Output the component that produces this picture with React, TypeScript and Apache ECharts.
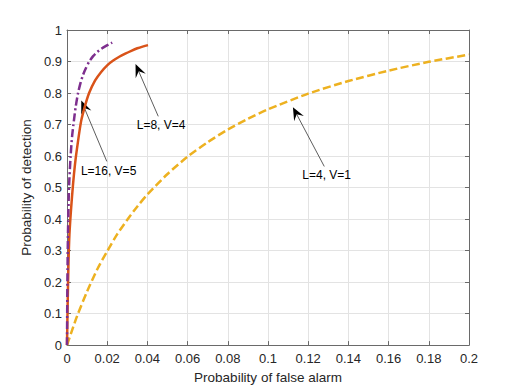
import React, { useEffect, useRef } from "react";
import * as echarts from "echarts";

// L=4, V=1 (yellow, dashed)
const pfaL4 = [0, 0.002, 0.005, 0.01, 0.015, 0.02, 0.025, 0.03, 0.035, 0.04, 0.05, 0.06, 0.07, 0.08, 0.09, 0.1, 0.12, 0.14, 0.16, 0.18, 0.2];
const pdL4 = [0, 0.037, 0.092, 0.17, 0.24, 0.298, 0.352, 0.398, 0.44, 0.478, 0.543, 0.598, 0.644, 0.684, 0.718, 0.748, 0.798, 0.838, 0.871, 0.899, 0.922];

// L=8, V=4 (red, solid)
const pfaL8 = [0, 0.0003, 0.0007, 0.0012, 0.002, 0.003, 0.004, 0.005, 0.007, 0.009, 0.011, 0.014, 0.017, 0.02, 0.023, 0.026, 0.029, 0.032, 0.035, 0.038, 0.0403];
const pdL8 = [0, 0.12, 0.25, 0.35, 0.43, 0.51, 0.575, 0.625, 0.71, 0.76, 0.8, 0.84, 0.867, 0.888, 0.903, 0.915, 0.925, 0.934, 0.942, 0.948, 0.952];

// L=16, V=5 (purple, dash-dot)
const pfaL16 = [0, 0.0002, 0.0005, 0.001, 0.0018, 0.0025, 0.0032, 0.0043, 0.0055, 0.0068, 0.008, 0.0095, 0.011, 0.013, 0.015, 0.017, 0.019, 0.021, 0.0225];
const pdL16 = [0, 0.2, 0.36, 0.5, 0.6, 0.66, 0.7, 0.755, 0.8, 0.834, 0.858, 0.88, 0.899, 0.917, 0.93, 0.94, 0.948, 0.955, 0.96];

const xTicks = [0, 0.02, 0.04, 0.06, 0.08, 0.1, 0.12, 0.14, 0.16, 0.18, 0.2];
const yTicks = [0, 0.1, 0.2, 0.3, 0.4, 0.5, 0.6, 0.7, 0.8, 0.9, 1];

// annotations: label, text centre, arrow tail, arrow tip (data coordinates)
const annLabels = ["L=16, V=5", "L=8, V=4", "L=4, V=1"];
const annText = [[0.0207, 0.552], [0.0468, 0.7], [0.1292, 0.541]];
const annTail = [[0.0198, 0.583], [0.0454, 0.726], [0.128, 0.567]];
const annTip = [[0.0071, 0.776], [0.0341, 0.892], [0.1124, 0.755]];

const FONT = "'Liberation Sans', Arial, Helvetica, sans-serif";
const AXIS_COLOR = "#262626";

const zip = (xs: number[], ys: number[]) => xs.map((x, i) => [x, ys[i]]);

export default function App() {
  const ref = useRef<HTMLDivElement>(null);
  useEffect(() => {
    if (!ref.current) return;
    const chart = echarts.init(ref.current, null, { renderer: "svg" });
    const xMin = xTicks[0], xMax = xTicks[xTicks.length - 1];
    const yMin = yTicks[0], yMax = yTicks[yTicks.length - 1];
    const xInt = xTicks[1] - xTicks[0];
    const yInt = yTicks[1] - yTicks[0];
    const baseAxis = {
      axisLine: { show: true, onZero: false, lineStyle: { color: "#6a6a6a", width: 1 } },
      axisTick: { show: true, inside: true, length: 4, lineStyle: { color: "#6a6a6a" } },
    };
    chart.setOption({
      animation: false,
      backgroundColor: "#ffffff",
      grid: { left: 67, right: 50, top: 30, bottom: 43, containLabel: false },
      xAxis: [
        {
          ...baseAxis,
          type: "value",
          min: xMin,
          max: xMax,
          interval: xInt,
          name: "Probability of false alarm",
          nameLocation: "middle",
          nameGap: 24,
          nameTextStyle: { color: AXIS_COLOR, fontFamily: FONT, fontSize: 13.5 },
          axisLabel: { color: AXIS_COLOR, fontFamily: FONT, fontSize: 13, margin: 7 },
          splitLine: { show: true, lineStyle: { color: "#e3e3e3", width: 1 } },
        },
        {
          ...baseAxis,
          type: "value",
          position: "top",
          min: xMin,
          max: xMax,
          interval: xInt,
          axisLabel: { show: false },
          splitLine: { show: false },
        },
      ],
      yAxis: [
        {
          ...baseAxis,
          type: "value",
          min: yMin,
          max: yMax,
          interval: yInt,
          name: "Probability of detection",
          nameLocation: "middle",
          nameGap: 26,
          nameTextStyle: { color: AXIS_COLOR, fontFamily: FONT, fontSize: 13.5 },
          axisLabel: { color: AXIS_COLOR, fontFamily: FONT, fontSize: 13, margin: 5 },
          splitLine: { show: true, lineStyle: { color: "#e3e3e3", width: 1 } },
        },
        {
          ...baseAxis,
          type: "value",
          position: "right",
          min: yMin,
          max: yMax,
          interval: yInt,
          axisLabel: { show: false },
          splitLine: { show: false },
        },
      ],
      series: [
        {
          type: "line",
          name: "L=4, V=1",
          data: zip(pfaL4, pdL4),
          showSymbol: false,
          smooth: 0.25,
          lineStyle: { color: "#EDB120", width: 2.5, type: [8, 3.5] },
        },
        {
          type: "line",
          name: "L=8, V=4",
          data: zip(pfaL8, pdL8),
          showSymbol: false,
          smooth: 0.25,
          lineStyle: { color: "#D95319", width: 2.5, type: "solid" },
        },
        {
          type: "line",
          name: "L=16, V=5",
          data: zip(pfaL16, pdL16),
          showSymbol: false,
          smooth: 0.25,
          lineStyle: { color: "#7E2F8E", width: 2.5, type: [8, 3, 2, 3] },
        },
      ],
    });

    const graphics: any[] = [];
    annLabels.forEach((label, i) => {
      const t = chart.convertToPixel({ gridIndex: 0 }, annText[i]) as number[];
      const a = chart.convertToPixel({ gridIndex: 0 }, annTail[i]) as number[];
      const b = chart.convertToPixel({ gridIndex: 0 }, annTip[i]) as number[];
      const dx = b[0] - a[0], dy = b[1] - a[1];
      const len = Math.sqrt(dx * dx + dy * dy);
      const ux = dx / len, uy = dy / len;
      const px = -uy, py = ux;
      const L = 13, W = 5.5, N = 8;
      const back = [b[0] - ux * L, b[1] - uy * L];
      const notch = [b[0] - ux * N, b[1] - uy * N];
      graphics.push({
        type: "line",
        shape: { x1: a[0], y1: a[1], x2: notch[0], y2: notch[1] },
        style: { stroke: "#333333", lineWidth: 0.8 },
        silent: true,
      });
      graphics.push({
        type: "polygon",
        shape: {
          points: [
            [b[0], b[1]],
            [back[0] + px * W, back[1] + py * W],
            [notch[0], notch[1]],
            [back[0] - px * W, back[1] - py * W],
          ],
        },
        style: { fill: "#000000" },
        silent: true,
      });
      graphics.push({
        type: "text",
        x: t[0],
        y: t[1],
        style: {
          text: label,
          fill: "#000000",
          font: `12px ${FONT}`,
          align: "center",
          verticalAlign: "middle",
        },
        silent: true,
      });
    });
    chart.setOption({ graphic: graphics });

    return () => chart.dispose();
  }, []);
  return <div ref={ref} style={{ width: 519, height: 389, position: "absolute", left: 0, top: 0 }} />;
}
